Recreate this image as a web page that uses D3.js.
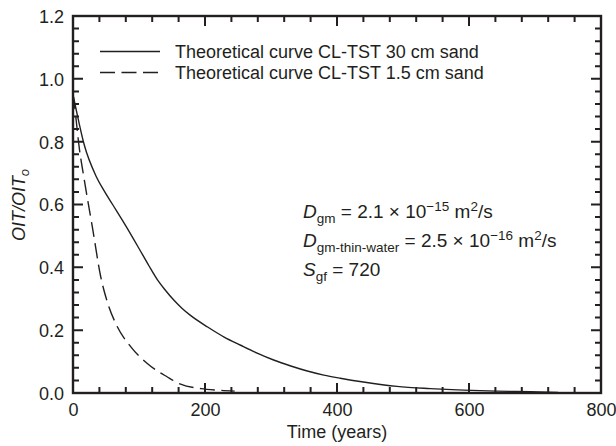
<!DOCTYPE html>
<html>
<head>
<meta charset="utf-8">
<script src="https://cdn.jsdelivr.net/npm/d3@7"></script>
<style>
  body { margin: 0; background: #fff; }
  svg text { font-family: "Liberation Sans", Arial, sans-serif; fill: #231f20; }
</style>
</head>
<body>
<svg width="616" height="446"></svg>
<script>
// curva teorica 30 cm de arena (tiempo en años, OIT/OITo)
const tiempo30 = [0, 5, 17, 35, 47, 60, 80, 100, 115, 128, 140, 153, 165, 178, 204, 229, 254, 279, 304, 330, 355, 380, 405, 440, 491, 541, 592, 642, 693, 735];
const oit30 = [0.95, 0.90, 0.79, 0.69, 0.644, 0.60, 0.532, 0.46, 0.405, 0.36, 0.327, 0.295, 0.27, 0.247, 0.21, 0.178, 0.152, 0.127, 0.105, 0.086, 0.07, 0.057, 0.047, 0.035, 0.021, 0.014, 0.009, 0.006, 0.004, 0.002];
// curva teorica 1.5 cm de arena
const tiempo15 = [0, 2, 9.5, 17, 30, 42, 52, 65, 88, 113, 143, 163, 194, 220, 245];
const oit15 = [0.95, 0.92, 0.78, 0.68, 0.52, 0.37, 0.29, 0.22, 0.146, 0.093, 0.051, 0.028, 0.014, 0.009, 0.006];

const xTicks = [0, 200, 400, 600, 800];
const yTicks = [0.0, 0.2, 0.4, 0.6, 0.8, 1.0, 1.2];
const leyendas = ["Theoretical curve CL-TST 30 cm sand", "Theoretical curve CL-TST 1.5 cm sand"];

const svg = d3.select("svg");
const ink = "#231f20";
const margin = {top: 16, right: 15, bottom: 53, left: 73};
const width = 616 - margin.left - margin.right,
      height = 446 - margin.top - margin.bottom;

const g = svg.append("g").attr("transform", `translate(${margin.left},${margin.top})`);

const x = d3.scaleLinear().domain([0, 800]).range([0, width]);
const y = d3.scaleLinear().domain([0, 1.2]).range([height, 0]);

const xMinor = d3.range(0, 801, 40).filter(v => v % 200 !== 0);
const yMinor = d3.range(0, 31).filter(i => i % 5 !== 0).map(i => i * 0.04);

// etiquetas de los ejes
const ax = g.append("g").attr("transform", `translate(0,${height})`)
  .call(d3.axisBottom(x).tickValues(xTicks).tickSize(0).tickPadding(10).tickFormat(d3.format("d")));
const ay = g.append("g")
  .call(d3.axisLeft(y).tickValues(yTicks).tickSize(0).tickPadding(9).tickFormat(d3.format(".1f")));
[ax, ay].forEach(a => {
  a.select(".domain").remove();
  a.selectAll("text").style("font-size", "18px").attr("fill", ink);
});
ay.selectAll("text").attr("dy", "0.36em");

// marcas hacia adentro en los cuatro lados, en un solo path
let d = "";
const marcasX = xTicks.map(v => [v, 10]).concat(xMinor.map(v => [v, 6]));
const marcasY = yTicks.map(v => [v, 10]).concat(yMinor.map(v => [v, 6]));
marcasX.forEach(([v, len]) => {
  d += `M${x(v)},${height}V${height - len}M${x(v)},0V${len}`;
});
marcasY.forEach(([v, len]) => {
  d += `M0,${y(v)}H${len}M${width},${y(v)}H${width - len}`;
});
g.append("path").attr("d", d)
  .style("fill", "none").style("stroke", ink).style("stroke-width", "2px");

// marco
g.append("rect").attr("width", width).attr("height", height)
  .style("fill", "none").style("stroke", ink).style("stroke-width", "2.4px");

// curvas
const linea = d3.line().x(d => x(d[0])).y(d => y(d[1])).curve(d3.curveMonotoneX);

g.append("path")
  .datum(d3.zip(tiempo30, oit30))
  .attr("d", linea)
  .attr("fill", "none").attr("stroke", ink).attr("stroke-width", 1.4);

g.append("path")
  .datum(d3.zip(tiempo15, oit15))
  .attr("d", linea)
  .attr("fill", "none").attr("stroke", ink).attr("stroke-width", 1.4)
  .attr("stroke-dasharray", "15,6.5");

// leyenda
const dashes = [null, "15,6.5"];
leyendas.forEach((t, i) => {
  const yy = 51.5 + i * 21;
  svg.append("line").attr("x1", 100).attr("x2", 160).attr("y1", yy).attr("y2", yy)
    .attr("stroke", ink).attr("stroke-width", 1.4)
    .attr("stroke-dasharray", dashes[i]);
  svg.append("text").attr("x", 175).attr("y", yy + 6.5).style("font-size", "18px").text(t);
});

// anotacion con subindices y superindices
function anotacion(yy, partes) {
  const t = svg.append("text").attr("x", 303).attr("y", yy).style("font-size", "19px");
  partes.forEach(p => {
    const s = t.append("tspan").text(p.t);
    if (p.i) s.style("font-style", "italic");
    if (p.sub) s.attr("dy", 5).style("font-size", "13.5px");
    if (p.sup) s.attr("dy", -7).style("font-size", "13.5px");
    if (p.back) s.attr("dy", p.back);
  });
}
anotacion(218, [{t: "D", i: true}, {t: "gm", sub: true}, {t: "  = 2.1 × 10", back: -5},
  {t: "−15", sup: true}, {t: " m", back: 7}, {t: "2", sup: true}, {t: "/s", back: 7}]);
anotacion(247, [{t: "D", i: true}, {t: "gm-thin-water", sub: true}, {t: "  = 2.5 × 10", back: -5},
  {t: "−16", sup: true}, {t: " m", back: 7}, {t: "2", sup: true}, {t: "/s", back: 7}]);
anotacion(276, [{t: "S", i: true}, {t: "gf", sub: true}, {t: "  = 720", back: -5}]);

// titulos de ejes
svg.append("text").attr("x", margin.left + width / 2).attr("y", 438)
  .attr("text-anchor", "middle").style("font-size", "18px").text("Time (years)");

const yl = svg.append("text").attr("transform", `translate(25,205) rotate(-90)`)
  .attr("text-anchor", "middle").style("font-size", "18px").style("font-style", "italic");
yl.append("tspan").text("OIT/OIT");
yl.append("tspan").text("o").attr("dy", 4).style("font-size", "13px");
</script>
</body>
</html>
